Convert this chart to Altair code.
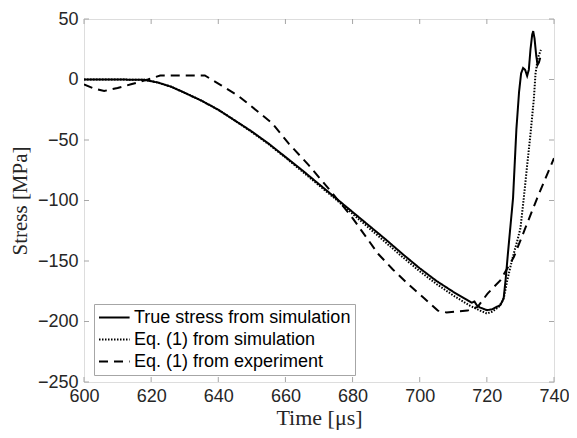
import altair as alt
import pandas as pd

# ---- data ----
series_names = ["True stress from simulation", "Eq. (1) from simulation", "Eq. (1) from experiment"]

true_t = [600, 610, 618, 622, 626, 630, 635, 640, 645, 650, 655, 660, 665, 670, 675, 680, 685, 690,
          695, 700, 705, 710, 714, 715.5, 716.3, 717, 718, 720, 721.5, 722.5, 724, 725, 725.6, 726.3,
          727, 727.8, 728.8, 729.6, 730.2, 730.8, 731.4, 732, 732.5, 733, 733.5, 733.8, 734.2, 734.7,
          735.1, 735.5, 735.9]
true_s = [0, 0, -0.3, -2.5, -6, -11, -17.5, -25, -34, -43, -53, -64, -75, -86.5, -98, -109.5, -121, -132.5,
          -144.5, -156, -166.5, -175.5, -182, -184.5, -183.5, -186.5, -188.5, -190.6, -190, -188.5, -186.5, -181, -165, -143,
          -122, -98, -41, -10, 5, 9.5, 8, 3, 8, 25, 37, 40, 34, 20,
          12, 14, 18]

sim_t = [600, 610, 618, 622, 626, 630, 635, 640, 645, 650, 655, 660, 665, 670, 675, 680, 685, 690,
         695, 700, 705, 710, 715, 718, 720, 721.5, 722.5, 723.5, 724.5, 725.1, 726, 727, 728, 729, 730,
         731, 732, 733, 734, 734.5, 735.2, 736.1]
sim_s = [0, 0, -0.3, -2.5, -6, -11, -17.5, -25, -34, -43.5, -53.5, -64.5, -76, -87.5, -99, -111, -123, -135,
         -147, -158.5, -169, -178.5, -187, -191, -193.4, -192, -190, -188, -184, -180, -167, -155, -144, -134, -123,
         -98, -71, -45, -16, 5, 18, 24.5]

exp_t = [600, 603, 606, 610, 614, 619, 622.7, 636, 641, 646, 652, 656, 661, 667, 672.8, 679.6, 687.6, 692,
         696.5, 701, 705.4, 708, 714.2, 717.2, 720.2, 724, 728, 731.5, 735, 740]
exp_s = [-4, -7.5, -9.5, -7, -4, 0, 3.3, 3.3, -5, -13.6, -27, -36, -53, -71, -90, -113, -144, -157,
         -169, -180, -191, -192.5, -191, -188, -177, -166, -147, -122.5, -98, -65]

x_ticks = [600, 620, 640, 660, 680, 700, 720, 740]
y_ticks = [-250, -200, -150, -100, -50, 0, 50]

# ---- build table ----
rows = []
for name, ts, ss in zip(series_names, [true_t, sim_t, exp_t], [true_s, sim_s, exp_s]):
    for i, (t, s) in enumerate(zip(ts, ss)):
        rows.append({"series": name, "t": t, "s": s, "i": i})
df = pd.DataFrame(rows)

W, H = 470, 363
FRAME = "#a6a6a6"
TXT = "#262626"

xscale = alt.Scale(domain=[600, 740], nice=False, zero=False)
yscale = alt.Scale(domain=[-250, 50], nice=False, zero=False)

xaxis = alt.Axis(values=x_ticks, ticks=False, tickSize=0, domain=False, grid=False,
                 labelFont="Liberation Sans", labelFontSize=18, labelColor=TXT,
                 labelPadding=5, labelFlush=False, labelOverlap=False,
                 title="Time [μs]", titleFont="Liberation Serif", titleFontSize=22,
                 titleFontWeight="normal", titleColor=TXT, titlePadding=2)
yaxis = alt.Axis(values=y_ticks, ticks=False, tickSize=0, domain=False, grid=False,
                 labelFont="Liberation Sans", labelFontSize=18, labelColor=TXT,
                 labelPadding=6, labelFlush=False, labelOverlap=False,
                 title="Stress [MPa]", titleFont="Liberation Serif", titleFontSize=21,
                 titleFontWeight="normal", titleColor=TXT, titlePadding=7)

lines = alt.Chart(df).mark_line(color="black", strokeWidth=2, clip=True).encode(
    x=alt.X("t:Q", scale=xscale, axis=xaxis),
    y=alt.Y("s:Q", scale=yscale, axis=yaxis),
    strokeDash=alt.StrokeDash("series:N",
                              scale=alt.Scale(domain=series_names, range=[[1, 0], [1.5, 1.5], [9, 6]]),
                              legend=alt.Legend(title=None, orient="none", legendX=10, legendY=285,
                                                symbolType="M-1,0H2.6", symbolSize=289,
                                                symbolStrokeWidth=2, symbolStrokeColor="black",
                                                labelFont="Liberation Sans", labelFontSize=18,
                                                labelColor="black", labelOffset=17, rowPadding=3,
                                                padding=4, strokeColor=FRAME, fillColor="white",
                                                labelLimit=400)),
    order="i:Q",
)

xt = pd.DataFrame({"t": x_ticks})
yt = pd.DataFrame({"s": y_ticks})

tick_b = alt.Chart(xt).mark_rule(color=FRAME, strokeWidth=1).encode(
    x=alt.X("t:Q", scale=xscale, axis=xaxis), y=alt.value(H), y2=alt.value(H - 5))
tick_t = alt.Chart(xt).mark_rule(color=FRAME, strokeWidth=1).encode(
    x=alt.X("t:Q", scale=xscale, axis=xaxis), y=alt.value(0), y2=alt.value(5))
tick_l = alt.Chart(yt).mark_rule(color=FRAME, strokeWidth=1).encode(
    y=alt.Y("s:Q", scale=yscale, axis=yaxis), x=alt.value(0), x2=alt.value(5))
tick_r = alt.Chart(yt).mark_rule(color=FRAME, strokeWidth=1).encode(
    y=alt.Y("s:Q", scale=yscale, axis=yaxis), x=alt.value(W), x2=alt.value(W - 5))

chart = alt.layer(tick_b, tick_t, tick_l, tick_r, lines).properties(
    width=W, height=H,
    autosize=alt.AutoSizeParams(type="none"),
    padding={"left": 76, "top": 11, "right": 15, "bottom": 48},
).configure_view(stroke=FRAME, strokeWidth=1).configure(background="white")

chart.save("out.html", embed_options={"renderer": "svg", "actions": False})
